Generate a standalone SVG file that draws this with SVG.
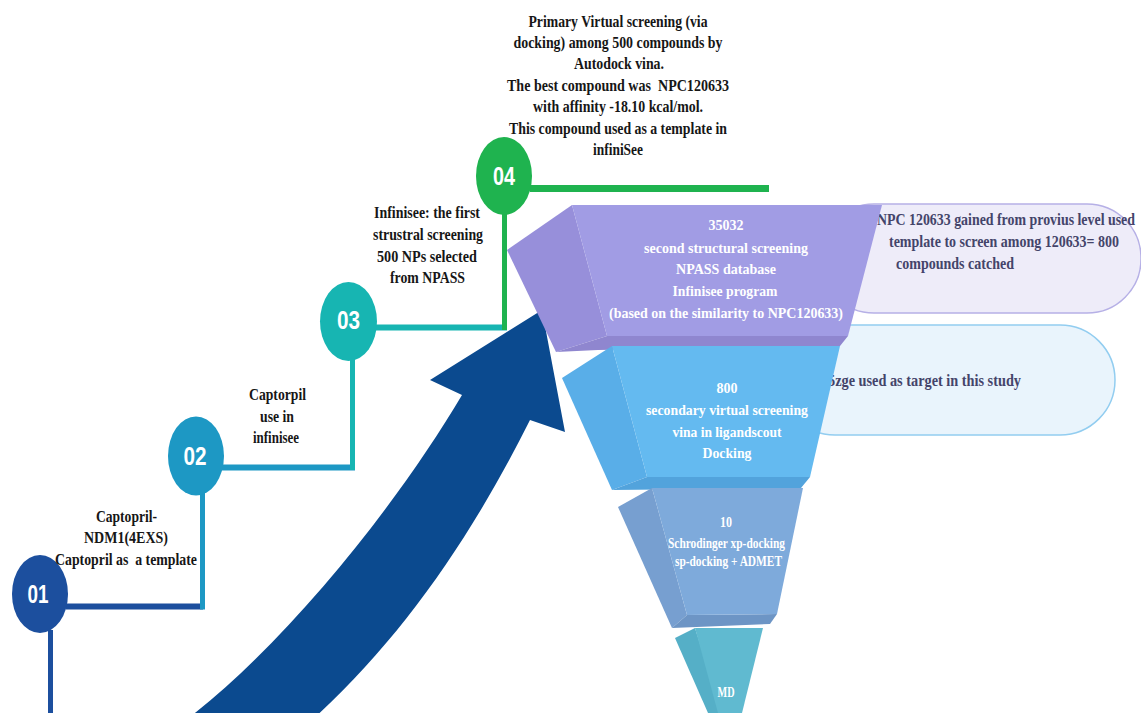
<svg xmlns="http://www.w3.org/2000/svg" width="1141" height="713" viewBox="0 0 1141 713">
  <style>
    .lbl { font-family: "Liberation Serif", "Times New Roman", serif; font-weight: bold; font-size: 16px; fill: #161616; text-anchor: middle; }
    .fun { font-family: "Liberation Serif", "Times New Roman", serif; font-weight: bold; font-size: 15px; fill: #ffffff; text-anchor: middle; }
    .pnl { font-family: "Liberation Serif", "Times New Roman", serif; font-weight: bold; font-size: 16px; fill: #44446a; }
    .num { font-family: "Liberation Sans", Arial, sans-serif; font-weight: bold; font-size: 25px; fill: #ffffff; text-anchor: middle; }
    .ln { fill: none; stroke-linecap: butt; }
  </style>

  <rect width="1141" height="713" fill="#ffffff"/>

  <!-- side notes behind the funnel -->
  <g id="note-template">
    <rect x="820" y="204" width="321" height="109" rx="54" fill="#eeecf9" stroke="#b6b0e6" stroke-width="1.5"/>
    <text class="pnl" x="877" y="225" textLength="258" lengthAdjust="spacingAndGlyphs">NPC 120633 gained from provius level used</text>
    <text class="pnl" x="889" y="247" textLength="230" lengthAdjust="spacingAndGlyphs">template to screen among 120633= 800</text>
    <text class="pnl" x="896" y="269" textLength="118" lengthAdjust="spacingAndGlyphs">compounds catched</text>
  </g>
  <g id="note-target">
    <rect x="780" y="325" width="335" height="110" rx="55" fill="#e9f4fc" stroke="#92cdf0" stroke-width="1.5"/>
    <text class="pnl" x="828" y="386" textLength="193" lengthAdjust="spacingAndGlyphs">5zge used as target in this study</text>
  </g>

  <!-- step connectors -->
  <g id="connectors" class="ln">
    <line x1="50.5" y1="630" x2="50.5" y2="713" stroke="#1c4f9e" stroke-width="5"/>
    <line x1="66" y1="606.5" x2="203" y2="606.5" stroke="#1c4f9e" stroke-width="6"/>
    <line x1="202.5" y1="609.5" x2="202.5" y2="490" stroke="#1d98c4" stroke-width="5"/>
    <line x1="222" y1="467.5" x2="355" y2="467.5" stroke="#1d98c4" stroke-width="6"/>
    <line x1="352.5" y1="470" x2="352.5" y2="358" stroke="#17b5b2" stroke-width="5"/>
    <line x1="375" y1="327.5" x2="507" y2="327.5" stroke="#17b5b2" stroke-width="6"/>
    <line x1="504.5" y1="330" x2="504.5" y2="212" stroke="#1fb34f" stroke-width="5"/>
    <line x1="530" y1="188.5" x2="769" y2="188.5" stroke="#1fb34f" stroke-width="7"/>
  </g>

  <!-- steps -->
  <g id="step-01">
    <ellipse cx="40" cy="594" rx="28" ry="39" fill="#1c4f9e"/>
    <text class="num" x="38" y="603" textLength="21" lengthAdjust="spacingAndGlyphs">01</text>
  </g>
  <g id="step-02">
    <ellipse cx="196" cy="456" rx="28" ry="39.5" fill="#1d98c4"/>
    <text class="num" x="195" y="465" textLength="23" lengthAdjust="spacingAndGlyphs">02</text>
  </g>
  <g id="step-03">
    <ellipse cx="348.5" cy="321.5" rx="28.5" ry="39.5" fill="#17b5b2"/>
    <text class="num" x="348.5" y="329" textLength="23" lengthAdjust="spacingAndGlyphs">03</text>
  </g>
  <g id="step-04">
    <ellipse cx="504" cy="176" rx="28" ry="39" fill="#1fb34f"/>
    <text class="num" x="504" y="185" textLength="22" lengthAdjust="spacingAndGlyphs">04</text>
  </g>

  <!-- rising arrow -->
  <g id="progress-arrow">
    <path d="M186,720 C290,640 400,500 462,395 L430,380 L542,310 L565,432 L530,420 C470,540 400,640 312,720 Z" fill="#0b4a8f"/>
  </g>

  <!-- screening funnel -->
  <g id="funnel-level-1">
    <path d="M507,250 L572,205 L607,336 L556,352 Z" fill="#978fda"/>
    <path d="M556,352 L607,336 L848,336 L840,346 L598,350 Z" fill="#8f86cf"/>
    <path d="M572,205 L882,205 L848,336 L607,336 Z" fill="#a19ce4"/>
    <text class="fun" x="726" y="230" textLength="35" lengthAdjust="spacingAndGlyphs">35032</text>
    <text class="fun" x="726" y="253" textLength="164" lengthAdjust="spacingAndGlyphs">second structural screening</text>
    <text class="fun" x="726" y="274" textLength="100" lengthAdjust="spacingAndGlyphs">NPASS database</text>
    <text class="fun" x="725" y="296" textLength="105" lengthAdjust="spacingAndGlyphs">Infinisee program</text>
    <text class="fun" x="726" y="318" textLength="234" lengthAdjust="spacingAndGlyphs">(based on the similarity to NPC120633)</text>
  </g>
  <g id="funnel-level-2">
    <path d="M562,378 L612,346 L647,477 L612,490 Z" fill="#59aee8"/>
    <path d="M612,490 L647,477 L810,477 L801,488 Z" fill="#52a3dc"/>
    <path d="M612,346 L840,346 L810,477 L647,477 Z" fill="#64baf0"/>
    <text class="fun" x="727" y="393" textLength="21" lengthAdjust="spacingAndGlyphs">800</text>
    <text class="fun" x="727" y="415" textLength="162" lengthAdjust="spacingAndGlyphs">secondary virtual screening</text>
    <text class="fun" x="727" y="437" textLength="109" lengthAdjust="spacingAndGlyphs">vina in ligandscout</text>
    <text class="fun" x="727" y="458" textLength="49" lengthAdjust="spacingAndGlyphs">Docking</text>
  </g>
  <g id="funnel-level-3">
    <path d="M618,507 L652,488 L687,615 L672,628 Z" fill="#779fd0"/>
    <path d="M672,628 L687,615 L777,614 L770,624 Z" fill="#6d95c5"/>
    <path d="M652,488 L803,488 L777,614 L687,615 Z" fill="#7eaadb"/>
    <text class="fun" x="726" y="527" textLength="12" lengthAdjust="spacingAndGlyphs" style="font-size:14px">10</text>
    <text class="fun" x="726.5" y="548" textLength="117" lengthAdjust="spacingAndGlyphs" style="font-size:14px">Schrodinger xp-docking</text>
    <text class="fun" x="728.5" y="566" textLength="107" lengthAdjust="spacingAndGlyphs" style="font-size:14px">sp-docking + ADMET</text>
  </g>
  <g id="funnel-level-4">
    <path d="M675,638 L695,628 L722,713 L708,713 Z" fill="#55afc7"/>
    <path d="M695,628 L763,628 L742,713 L718,713 Z" fill="#60bad0"/>
    <text class="fun" x="726" y="697" textLength="17" lengthAdjust="spacingAndGlyphs" style="font-size:14px">MD</text>
  </g>

  <!-- step descriptions -->
  <g id="desc-04">
    <text class="lbl" x="618" y="27" textLength="179" lengthAdjust="spacingAndGlyphs">Primary Virtual screening (via</text>
    <text class="lbl" x="618" y="48" textLength="209" lengthAdjust="spacingAndGlyphs">docking) among 500 compounds by</text>
    <text class="lbl" x="619" y="69" textLength="90" lengthAdjust="spacingAndGlyphs">Autodock vina.</text>
    <text class="lbl" x="618" y="91" textLength="222" lengthAdjust="spacingAndGlyphs" xml:space="preserve">The best compound was  NPC120633</text>
    <text class="lbl" x="618" y="112" textLength="170" lengthAdjust="spacingAndGlyphs">with affinity -18.10 kcal/mol.</text>
    <text class="lbl" x="618" y="134" textLength="218" lengthAdjust="spacingAndGlyphs">This compound used as a template in</text>
    <text class="lbl" x="618" y="155" textLength="50" lengthAdjust="spacingAndGlyphs">infiniSee</text>
  </g>
  <g id="desc-03">
    <text class="lbl" x="427" y="218" textLength="106" lengthAdjust="spacingAndGlyphs">Infinisee: the first</text>
    <text class="lbl" x="428" y="240" textLength="110" lengthAdjust="spacingAndGlyphs">strustral screening</text>
    <text class="lbl" x="427" y="262" textLength="100" lengthAdjust="spacingAndGlyphs">500 NPs selected</text>
    <text class="lbl" x="427.5" y="283" textLength="75" lengthAdjust="spacingAndGlyphs">from NPASS</text>
  </g>
  <g id="desc-02">
    <text class="lbl" x="277.5" y="400" textLength="57" lengthAdjust="spacingAndGlyphs">Captorpil</text>
    <text class="lbl" x="277" y="422" textLength="34" lengthAdjust="spacingAndGlyphs">use in</text>
    <text class="lbl" x="276" y="443" textLength="46" lengthAdjust="spacingAndGlyphs">infinisee</text>
  </g>
  <g id="desc-01">
    <text class="lbl" x="126.5" y="522" textLength="61" lengthAdjust="spacingAndGlyphs">Captopril-</text>
    <text class="lbl" x="126" y="543" textLength="84" lengthAdjust="spacingAndGlyphs">NDM1(4EXS)</text>
    <text class="lbl" x="126" y="565" textLength="142" lengthAdjust="spacingAndGlyphs" xml:space="preserve">Captopril as  a template</text>
  </g>
</svg>
